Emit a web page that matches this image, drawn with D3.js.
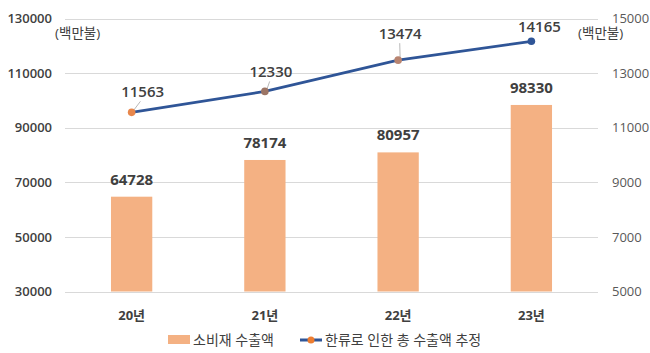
<!DOCTYPE html>
<html>
<head>
<meta charset="utf-8">
<script src="https://cdn.jsdelivr.net/npm/d3@7"></script>
<style>
  body { margin: 0; background: #fff; }
  svg text { font-family: "Open Sans", "Noto Sans CJK KR", sans-serif; }
</style>
</head>
<body>
<svg id="chart" width="650" height="353"></svg>
<script>
// chart data
const years = ['20년', '21년', '22년', '23년'];
const consumerExports = [64728, 78174, 80957, 98330];
const hallyuExports = [11563, 12330, 13474, 14165];
const leftTicks = [30000, 50000, 70000, 90000, 110000, 130000];
const rightTicks = [5000, 7000, 9000, 11000, 13000, 15000];

const unitLabel = '(백만불)';
const barName = '소비재 수출액';
const lineName = '한류로 인한 총 수출액 추정';

// hand placed label nudges (like the excel original)
const labelNudge = [[11, -15], [6, -14], [2, -21], [8, -9]];
const markerFill = ['#E8874C', '#9C7565', '#B88470', '#2F5597'];

const barColor = '#F4B183';
const lineColor = '#2F5597';
const textColor = '#404040';

const margin = {top: 18, right: 52, bottom: 62, left: 65};
const width = 650, height = 353;

const svg = d3.select('#chart');

const x = d3.scaleBand()
  .domain(years)
  .range([margin.left, width - margin.right])
  .paddingInner(0.69)
  .paddingOuter(0.345);

const yL = d3.scaleLinear()
  .domain([30000, 130000])
  .range([height - margin.bottom + 0.5, margin.top + 0.5]);

const yR = d3.scaleLinear()
  .domain([5000, 15000])
  .range([height - margin.bottom + 0.5, margin.top + 0.5]);

// gridlines
svg.append('g')
  .selectAll('line')
  .data(leftTicks)
  .join('line')
  .attr('x1', margin.left)
  .attr('x2', width - margin.right)
  .attr('y1', d => Math.round(yL(d)) + 0.5)
  .attr('y2', d => Math.round(yL(d)) + 0.5)
  .attr('stroke', '#D9D9D9')
  .attr('stroke-width', 1);

// left axis
const leftAxis = svg.append('g')
  .attr('transform', `translate(${margin.left},0)`)
  .call(d3.axisLeft(yL).tickValues(leftTicks).tickFormat(d3.format('d')).tickSize(0).tickPadding(13));
leftAxis.select('.domain').remove();
leftAxis.selectAll('text')
  .style('font-size', '13px')
  .style('font-weight', '600')
  .attr('fill', textColor);

// right axis
const rightAxis = svg.append('g')
  .attr('transform', `translate(${width - margin.right},0)`)
  .call(d3.axisRight(yR).tickValues(rightTicks).tickFormat(d3.format('d')).tickSize(0).tickPadding(14));
rightAxis.select('.domain').remove();
rightAxis.selectAll('text')
  .style('font-size', '13px')
  .attr('fill', '#595959');

// bottom axis
const bottomAxis = svg.append('g')
  .attr('transform', `translate(0,${height - margin.bottom})`)
  .call(d3.axisBottom(x).tickSize(0).tickPadding(20));
bottomAxis.select('.domain').remove();
bottomAxis.selectAll('text')
  .style('font-size', '13px')
  .style('font-weight', '700')
  .attr('fill', textColor);

// unit labels
svg.append('text')
  .attr('x', 55).attr('y', 38)
  .style('font-size', '13.5px')
  .attr('fill', textColor)
  .text(unitLabel);
svg.append('text')
  .attr('x', 578).attr('y', 38)
  .style('font-size', '13.5px')
  .attr('fill', textColor)
  .text(unitLabel);

// bars
svg.append('g')
  .selectAll('rect')
  .data(consumerExports)
  .join('rect')
  .attr('x', (d, i) => x(years[i]))
  .attr('y', d => yL(d))
  .attr('width', x.bandwidth())
  .attr('height', d => yL(30000) - yL(d))
  .attr('fill', barColor);

svg.append('g')
  .selectAll('text')
  .data(consumerExports)
  .join('text')
  .attr('x', (d, i) => x(years[i]) + x.bandwidth() / 2)
  .attr('y', d => yL(d) - 12)
  .attr('text-anchor', 'middle')
  .style('font-size', '15px')
  .style('font-weight', '700')
  .attr('fill', textColor)
  .text(d => d);

// line
const cx = i => x(years[i]) + x.bandwidth() / 2;

svg.append('path')
  .datum(hallyuExports)
  .attr('d', d3.line().x((d, i) => cx(i)).y(d => yR(d)))
  .attr('fill', 'none')
  .attr('stroke', lineColor)
  .attr('stroke-width', 2.75);

// leader lines
svg.append('g')
  .selectAll('line')
  .data(hallyuExports)
  .join('line')
  .attr('x1', (d, i) => cx(i) + 2)
  .attr('y1', d => yR(d) - 2)
  .attr('x2', (d, i) => cx(i) + labelNudge[i][0] * 0.8)
  .attr('y2', (d, i) => yR(d) + labelNudge[i][1] + 4)
  .attr('stroke', '#A6A6A6')
  .attr('stroke-width', 0.8)
  .style('display', (d, i) => labelNudge[i][1] < -12 ? null : 'none');

svg.append('g')
  .selectAll('circle')
  .data(hallyuExports)
  .join('circle')
  .attr('cx', (d, i) => cx(i))
  .attr('cy', d => yR(d))
  .attr('r', 3.8)
  .attr('fill', (d, i) => markerFill[i]);

svg.append('g')
  .selectAll('text')
  .data(hallyuExports)
  .join('text')
  .attr('x', (d, i) => cx(i) + labelNudge[i][0])
  .attr('y', (d, i) => yR(d) + labelNudge[i][1])
  .attr('text-anchor', 'middle')
  .style('font-size', '15px')
  .style('font-weight', '600')
  .attr('fill', textColor)
  .text(d => d);

// legend
const legend = svg.append('g').attr('transform', 'translate(0,340)');
legend.append('rect')
  .attr('x', 168).attr('y', -5)
  .attr('width', 22).attr('height', 9)
  .attr('fill', barColor);
legend.append('text')
  .attr('x', 193).attr('y', 5)
  .style('font-size', '14px')
  .attr('fill', textColor)
  .text(barName);
legend.append('line')
  .attr('x1', 300).attr('x2', 322)
  .attr('y1', 0).attr('y2', 0)
  .attr('stroke', lineColor)
  .attr('stroke-width', 3);
legend.append('circle')
  .attr('cx', 311).attr('cy', 0).attr('r', 3.5)
  .attr('fill', '#ED7D31');
legend.append('text')
  .attr('x', 325).attr('y', 5)
  .style('font-size', '14px')
  .attr('fill', textColor)
  .text(lineName);
</script>
</body>
</html>
